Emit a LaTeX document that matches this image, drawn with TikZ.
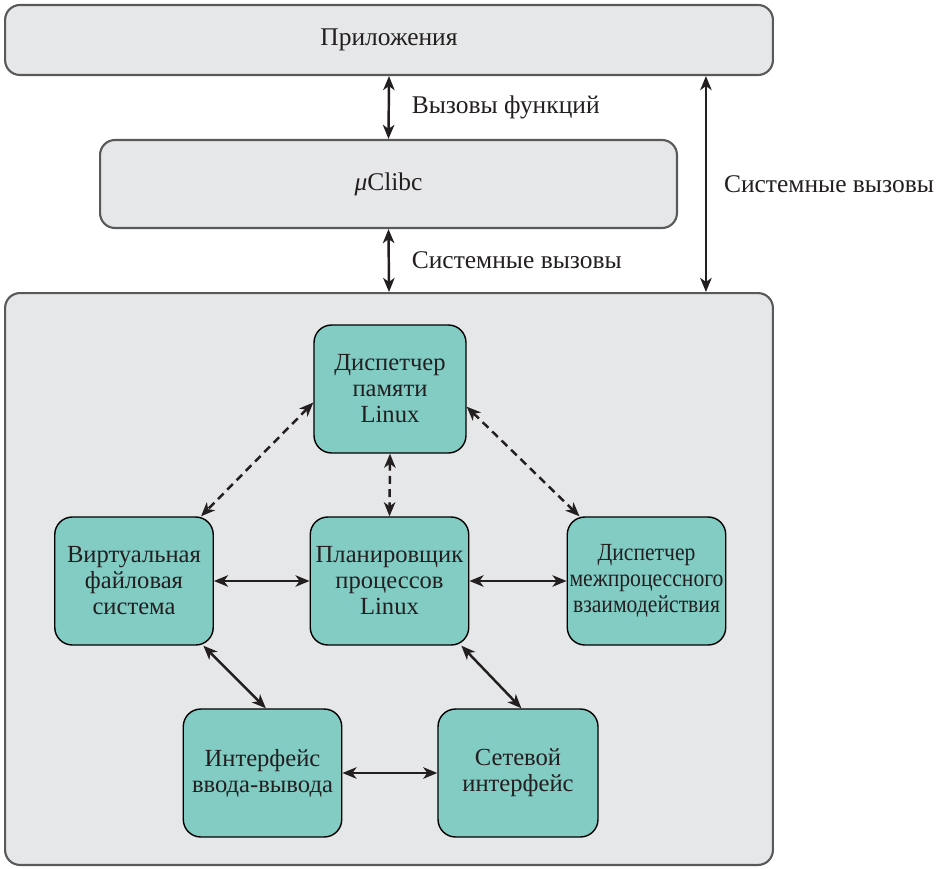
\documentclass[tikz,border=0pt]{standalone}
\usepackage{fontspec}
\setmainfont{Liberation Serif}
\newfontfamily\timesfont{Liberation Serif}
\newfontfamily\narrowfont{Liberation Serif}[FakeStretch=0.88]
\usepackage{xcolor}
\usepackage{tikz}
\usetikzlibrary{arrows.meta,calc,positioning}
\definecolor{layergray}{RGB}{230,231,232}
\definecolor{layerline}{RGB}{88,89,91}
\definecolor{moduleteal}{RGB}{130,204,196}
\definecolor{inkdark}{RGB}{35,31,32}

\begin{document}
\begin{tikzpicture}[x=0.02cm,y=-0.02cm,>={Stealth[length=8pt,width=6.5pt,inset=2.3pt]},
  font=\timesfont\fontsize{14.5}{14.8}\selectfont,text=inkdark,
  layer/.style={draw=layerline,line width=1.2pt,fill=layergray,rounded corners=8.5pt},
  module/.style={draw=black,line width=0.8pt,fill=moduleteal,rounded corners=10pt,
    minimum width=3.17cm,minimum height=2.56cm,align=center,inner sep=0pt,
    font=\timesfont\fontsize{14}{14.8}\selectfont},
  link/.style={<->,inkdark,line width=1.4pt},
  dlink/.style={link,dash pattern=on 4.5pt off 3pt}]
  \useasboundingbox (0,0) rectangle (942,868);
  % layers
  \node[layer,minimum width=15.36cm,minimum height=1.4cm] (app) at (389,40) {Приложения};
  \node[layer,minimum width=11.54cm,minimum height=1.76cm] (libc) at (388.5,184) {\textit{μ}Clibc};
  \node[layer,minimum width=15.36cm,minimum height=11.44cm] (kernel) at (389,579) {};
  % kernel modules
  \node[module,minimum width=3.04cm] (mem) at (390,389) {Диспетчер\\памяти\\Linux};
  \node[module] (vfs) at (134,581) {Виртуальная\\файловая\\система};
  \node[module] (sched) at (389.5,581) {Планировщик\\процессов\\Linux};
  \node[module,font=\narrowfont\fontsize{14}{14.8}\selectfont] (ipc) at (646.5,581)
    {Диспетчер\\межпроцессного\\взаимодействия};
  \node[module] (io) at (262.5,773) {Интерфейс\\ввода-вывода};
  \node[module,minimum width=3.2cm] (net) at (518,773) {Сетевой\\интерфейс};
  % calls between layers
  \draw[link] (app.south) -- (libc.north) node[midway,right=0.32cm] {Вызовы функций};
  \draw[link] (libc.south) -- (kernel.north) node[midway,right=0.32cm] {Системные вызовы};
  \draw[link] ([xshift=6.34cm]app.south) -- ([xshift=6.34cm]kernel.north)
    node[midway,right=0.22cm] {Системные вызовы};
  % links inside the kernel
  \draw[dlink] (mem.190) -- (vfs.44);
  \draw[dlink] (mem.south) -- (sched.north);
  \draw[dlink] (mem.347) -- (ipc.136);
  \draw[link] (vfs.east) -- (sched.west);
  \draw[link] (sched.east) -- (ipc.west);
  \draw[link] (vfs.-43) -- (io.87);
  \draw[link] (sched.-42) -- (net.87);
  \draw[link] (io.east) -- (net.west);
\end{tikzpicture}
\end{document}
